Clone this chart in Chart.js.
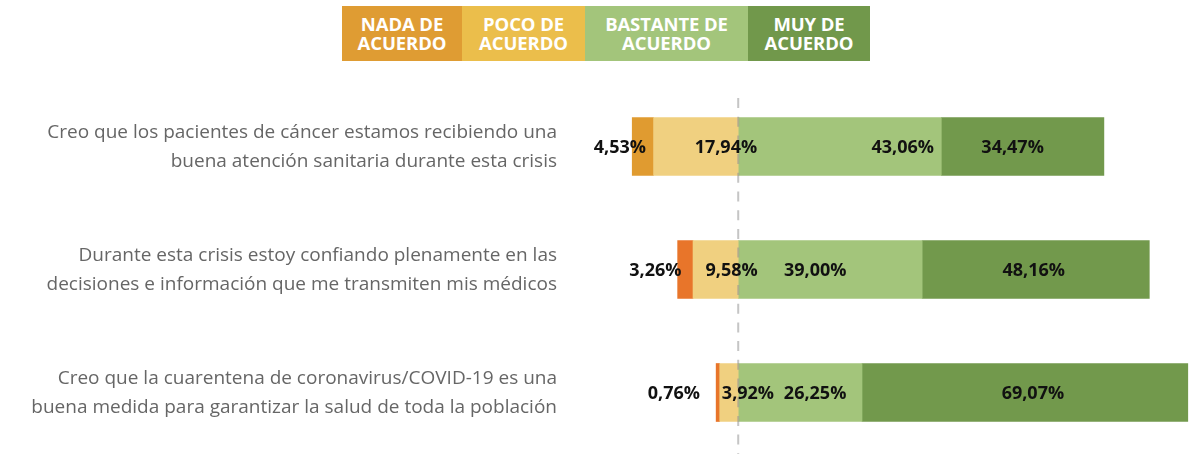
<!DOCTYPE html>
<html>
<head>
<meta charset="utf-8">
<script src="https://cdn.jsdelivr.net/npm/chart.js@4.4.1/dist/chart.umd.min.js"></script>
<style>
  html, body { margin: 0; padding: 0; background: #fff; }
  #wrap { position: relative; width: 1201px; height: 454px; overflow: hidden; }
  #legend { position: absolute; left: 342px; top: 6px; display: flex; height: 55px; }
  #legend .item { display: flex; align-items: center; justify-content: center; text-align: center;
    color: #fff; font-family: "Open Sans", sans-serif; font-weight: 700; font-size: 18.5px; line-height: 18.5px;
    padding: 0 8px; box-sizing: border-box; letter-spacing: -0.1px; }
  canvas { position: absolute; left: 0; top: 0; }
</style>
</head>
<body>
<div id="wrap">
  <canvas id="c" width="1201" height="454"></canvas>
  <div id="legend"></div>
</div>
<script>
const categories = [
  ["Creo que los pacientes de cáncer estamos recibiendo una", "buena atención sanitaria durante esta crisis"],
  ["Durante esta crisis estoy confiando plenamente en las", "decisiones e información que me transmiten mis médicos"],
  ["Creo que la cuarentena de coronavirus/COVID-19 es una", "buena medida para garantizar la salud de toda la población"]
];
const seriesNames = ["NADA DE\nACUERDO", "POCO DE\nACUERDO", "BASTANTE DE\nACUERDO", "MUY DE\nACUERDO"];
const nada = [4.53, 3.26, 0.76];
const poco = [17.94, 9.58, 3.92];
const bastante = [43.06, 39.00, 26.25];
const muy = [34.47, 48.16, 69.07];

const legendColors = ["#DF9C33", "#EBBE4B", "#A3C57B", "#71984B"];
const legendWidths = [120, 123, 163, 122];

// label offsets (px) relative to segment centre, style only
const labelOffsets = {
  nada: [-23, -30, -44],
  poco: [30, 16, 19],
  bastante: [63, -15, 15],
  muy: [-10, -2, 8]
};

const fmt = v => Math.abs(v).toFixed(2).replace('.', ',') + '%';

const datasets = [
  { key: 'poco', label: seriesNames[1], data: poco.map(v => -v), backgroundColor: '#F0D080' },
  { key: 'nada', label: seriesNames[0], data: nada.map(v => -v), backgroundColor: ['#E09B30', '#E8752A', '#E8752A'] },
  { key: 'bastante', label: seriesNames[2], data: bastante, backgroundColor: '#A3C57B' },
  { key: 'muy', label: seriesNames[3], data: muy, backgroundColor: '#72994C' }
];
datasets.forEach(d => { d.barThickness = 58; d.borderWidth = 0; });

// HTML legend
const leg = document.getElementById('legend');
seriesNames.forEach((n, i) => {
  const d = document.createElement('div');
  d.className = 'item';
  d.style.background = legendColors[i];
  d.style.width = legendWidths[i] + 'px';
  d.innerHTML = n.replace('\n', '<br>');
  leg.appendChild(d);
});

const zeroLine = {
  id: 'zeroLine',
  afterDatasetsDraw(chart) {
    const x = chart.scales.x.getPixelForValue(0);
    const ctx = chart.ctx;
    ctx.save();
    ctx.strokeStyle = 'rgba(150,150,150,0.55)';
    ctx.lineWidth = 2;
    ctx.setLineDash([10, 8.7]);
    ctx.beginPath();
    ctx.moveTo(x, 98);
    ctx.lineTo(x, chart.chartArea.bottom);
    ctx.stroke();
    ctx.restore();
  }
};

const valueLabels = {
  id: 'valueLabels',
  afterDraw(chart) {
    const ctx = chart.ctx;
    ctx.save();
    ctx.font = '700 18px "Open Sans", sans-serif';
    ctx.fillStyle = '#111';
    ctx.textAlign = 'center';
    ctx.textBaseline = 'middle';
    chart.data.datasets.forEach((ds, di) => {
      const meta = chart.getDatasetMeta(di);
      meta.data.forEach((el, i) => {
        const cx = (el.x + el.base) / 2 + labelOffsets[ds.key][i];
        ctx.fillText(fmt(ds.data[i]), cx, el.y + 1);
      });
    });
    ctx.restore();
  }
};

new Chart(document.getElementById('c'), {
  type: 'bar',
  data: { labels: categories, datasets },
  options: {
    indexAxis: 'y',
    responsive: false,
    animation: false,
    layout: { padding: { top: 85, right: 10, bottom: 0, left: 0 } },
    plugins: { legend: { display: false }, tooltip: { enabled: false } },
    scales: {
      x: { stacked: true, min: -31, max: 96, display: false },
      y: {
        stacked: true,
        grid: { display: false, drawTicks: false },
        border: { display: false },
        ticks: {
          padding: 35,
          labelOffset: 1,
          color: '#666',
          font: { family: '"Open Sans", sans-serif', size: 19, lineHeight: 1.53 }
        },
        afterFit(scale) {
          scale.width = 592;
          scale.paddingTop = 0;
          scale.paddingBottom = 0;
        }
      }
    }
  },
  plugins: [zeroLine, valueLabels]
});
</script>
</body>
</html>
